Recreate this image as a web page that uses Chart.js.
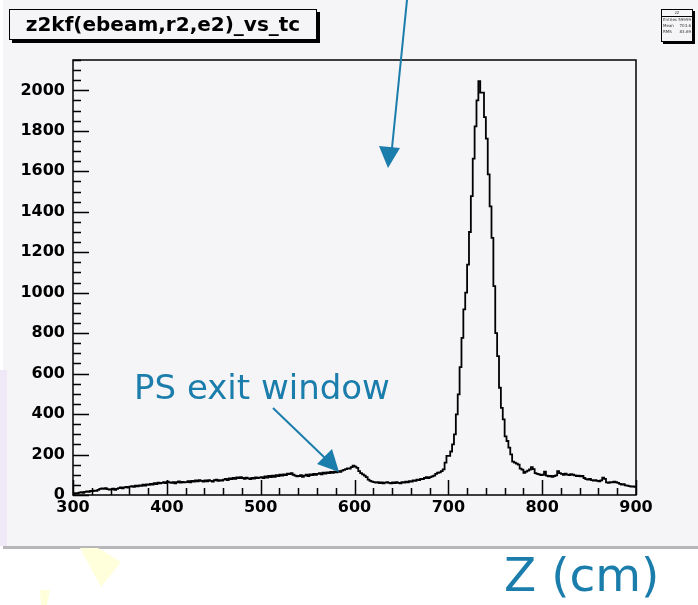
<!DOCTYPE html>
<html>
<head>
<meta charset="utf-8">
<script src="https://cdn.jsdelivr.net/npm/chart.js@4/dist/chart.umd.min.js"></script>
<style>
    body { margin: 0; background: #ffffff; }
    #page { position: relative; width: 698px; height: 605px; overflow: hidden; background: #ffffff; }
    #pad { position: absolute; left: 3px; top: 0; width: 695px; height: 546px; background: #f5f4f7; border-bottom: 3px solid #b7b7b9; }
    #edge { position: absolute; left: 0; top: 370px; width: 7px; height: 176px; background: #efe8f7; }
    #c { position: absolute; left: 0; top: 0; }
    .box { position: absolute; background: #f5f4f7; border: 1.5px solid #000; box-sizing: border-box; }
    #title { left: 9px; top: 9px; width: 308px; height: 31px; box-shadow: 3px 3px 0 #000;
             font: bold 20px "DejaVu Sans", sans-serif; line-height: 28px; text-align: center; color: #000; }
    #stats { left: 661px; top: 9px; width: 32px; height: 33px; box-shadow: 2px 2px 0 #000;
             font: 4px "DejaVu Sans", sans-serif; line-height: 6px; color: #333; border-width: 1px; }
    #stats .hd { text-align: center; border-bottom: 1px solid #000; height: 6px; }
    #stats .row { display: flex; justify-content: space-between; padding: 0 1px; }
    .note { position: absolute; color: #1a7dab; font-family: "DejaVu Sans", sans-serif; white-space: nowrap; line-height: 1; }
    #ps { left: 134px; top: 370px; font-size: 34px; }
    #zlabel { left: 504px; top: 551px; font-size: 47px; }
    svg { position: absolute; left: 0; top: 0; }
</style>
</head>
<body>
<div id="page">
    <div id="pad"></div>
    <div id="edge"></div>
    <svg width="698" height="605">
        <polygon points="80,548 98,548 121,562 101,587" fill="#ffffdc"/>
        <polygon points="40,590 50,590 47,605 41,605" fill="#ffffdc"/>
    </svg>
    <canvas id="c" width="698" height="605"></canvas>
    <div class="box" id="title">z2kf(ebeam,r2,e2)_vs_tc</div>
    <div class="box" id="stats">
        <div class="hd">z2</div>
        <div class="row"><span>Entries</span><span>59999</span></div>
        <div class="row"><span>Mean</span><span>703.6</span></div>
        <div class="row"><span>RMS</span><span>83.69</span></div>
    </div>
    <div class="note" id="ps">PS exit window</div>
    <div class="note" id="zlabel">Z (cm)</div>
    <svg width="698" height="605" style="pointer-events:none">
        <line x1="407" y1="0" x2="392" y2="148" stroke="#1a7dab" stroke-width="2"/>
        <polygon points="379,146 400,148 388,168" fill="#1a7dab"/>
        <line x1="273" y1="408" x2="325" y2="458" stroke="#1a7dab" stroke-width="2"/>
        <polygon points="317,464 332,449 339,472" fill="#1a7dab"/>
    </svg>
</div>
<script>
// histogram range and bin width (cm)
const zMin = 300;
const zMax = 900;
const binWidth = 2;

// entries per 2 cm bin, 300 -> 900
const counts = [
    6, 9, 8, 12, 14, 11, 15, 18, 16, 20,
    19, 22, 20, 25, 30, 33, 31, 34, 29, 27,
    28, 32, 26, 30, 34, 37, 33, 38, 40, 36,
    41, 44, 40, 46, 43, 48, 45, 51, 47, 53,
    50, 55, 52, 58, 54, 61, 57, 60, 63, 59,
    66, 62, 60, 64, 58, 63, 67, 61, 65, 62,
    64, 68, 62, 70, 66, 72, 68, 74, 70, 66,
    72, 68, 74, 70, 66, 73, 76, 70, 74, 71,
    76, 80, 74, 82, 78, 85, 80, 87, 83, 88,
    84, 80, 86, 82, 78, 85, 81, 87, 83, 86,
    88, 84, 92, 86, 94, 89, 96, 90, 98, 94,
    100, 96, 102, 98, 106, 103, 108, 100, 96, 92,
    94, 98, 90, 96, 100, 94, 102, 98, 104, 100,
    104, 108, 102, 110, 106, 112, 108, 114, 110, 116,
    112, 118, 114, 120, 124, 128, 132, 130, 138, 145,
    140, 134, 118, 108, 102, 96, 88, 76, 70, 66,
    64, 61, 63, 59, 62, 58, 61, 64, 60, 57,
    62, 59, 63, 60, 58, 64, 61, 66, 62, 68,
    66, 72, 70, 76, 74, 80, 78, 84, 88, 84,
    88, 92, 96, 104, 110, 112, 118, 127, 160, 193,
    193, 215, 250, 300, 398, 497, 632, 777, 917, 1000,
    1139, 1300, 1477, 1663, 1822, 1950, 2046, 1989, 1989, 1868,
    1761, 1585, 1427, 1271, 1032, 800, 686, 530, 431, 374,
    290, 267, 234, 201, 165, 160, 155, 150, 130, 125,
    110, 116, 120, 126, 138, 128, 108, 104, 102, 98,
    100, 115, 96, 92, 95, 90, 94, 97, 118, 108,
    104, 100, 106, 101, 98, 103, 100, 97, 94, 96,
    92, 94, 84, 78, 76, 79, 74, 71, 73, 70,
    68, 72, 86, 80, 62, 60, 64, 62, 66, 63,
    60, 55, 52, 54, 48, 46, 44, 42, 43, 40
];

const xTicks = [300, 400, 500, 600, 700, 800, 900];
const yTicks = [0, 200, 400, 600, 800, 1000, 1200, 1400, 1600, 1800, 2000];
const yMax = 2150;

// one point per bin low edge, plus the closing edge
const points = counts.map((n, i) => ({ x: zMin + i * binWidth, y: n }));
points.push({ x: zMax, y: counts[counts.length - 1] });

const labelFont = { family: 'DejaVu Sans', size: 16, weight: 'bold' };

// frame and inward tick marks, ROOT style
const frameTicks = {
    id: 'frameTicks',
    afterDatasetsDraw(chart) {
        const { ctx, chartArea: a, scales } = chart;
        const x = scales.x, y = scales.y;
        ctx.save();
        ctx.strokeStyle = '#000';
        ctx.lineWidth = 1.5;
        ctx.strokeRect(a.left, a.top, a.right - a.left, a.bottom - a.top);
        ctx.beginPath();
        for (let v = 0; v <= yMax; v += 50) {
            const py = Math.round(y.getPixelForValue(v)) + 0.5;
            const len = v % 200 === 0 ? 16 : 8;
            ctx.moveTo(a.left, py);
            ctx.lineTo(a.left + len, py);
        }
        for (let v = zMin; v <= zMax; v += 20) {
            const px = Math.round(x.getPixelForValue(v)) + 0.5;
            const len = v % 100 === 0 ? 15 : 7;
            ctx.moveTo(px, a.bottom);
            ctx.lineTo(px, a.bottom - len);
        }
        ctx.stroke();
        ctx.restore();
    }
};

new Chart(document.getElementById('c').getContext('2d'), {
    type: 'line',
    data: {
        datasets: [{
            data: points,
            stepped: true,
            borderColor: '#000',
            borderWidth: 1.8,
            pointRadius: 0,
            fill: false
        }]
    },
    options: {
        responsive: false,
        animation: false,
        layout: { padding: { top: 60, right: 62, left: 0, bottom: 0 } },
        plugins: { legend: { display: false }, tooltip: { enabled: false } },
        scales: {
            x: {
                type: 'linear',
                min: zMin,
                max: zMax,
                grid: { display: false, drawTicks: false },
                border: { display: false },
                afterBuildTicks: s => { s.ticks = xTicks.map(v => ({ value: v })); },
                afterFit: s => { s.height = 110; },
                ticks: { font: labelFont, color: '#000', padding: 3, maxRotation: 0, callback: v => String(v) }
            },
            y: {
                min: 0,
                max: yMax,
                grid: { display: false, drawTicks: false },
                border: { display: false },
                afterBuildTicks: s => { s.ticks = yTicks.map(v => ({ value: v })); },
                afterFit: s => { s.width = 73; },
                ticks: { font: labelFont, color: '#000', padding: 8, callback: v => String(v) }
            }
        }
    },
    plugins: [frameTicks]
});
</script>
</body>
</html>
